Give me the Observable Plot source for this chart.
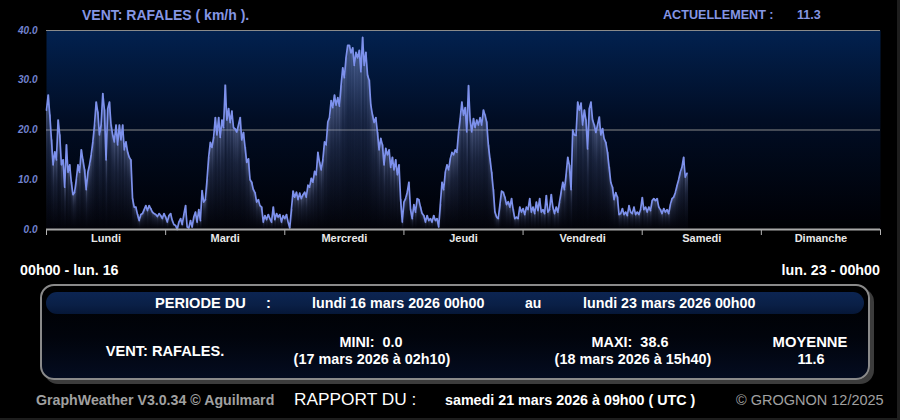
<!DOCTYPE html>
<html><head><meta charset="utf-8">
<script src="https://cdn.jsdelivr.net/npm/d3@7"></script>
<script src="https://cdn.jsdelivr.net/npm/@observablehq/plot@0.6"></script>
<style>
html,body{margin:0;padding:0;background:#000;}
#root{position:relative;width:900px;height:420px;background:#000;overflow:hidden;font-family:"Liberation Sans",Arial,Helvetica,sans-serif;}
#root svg{position:absolute;left:0;top:0;}
.t{position:absolute;white-space:pre;line-height:1;}
.panel{position:absolute;left:40px;top:284px;width:826px;height:92px;border:2px solid #8a8a8a;border-radius:14px;box-shadow:4px 4px 0 #3c3c3c;background:linear-gradient(180deg,#000 0%,#01040c 55%,#040c20 100%);}
.bar{position:absolute;left:46px;top:292px;width:818px;height:22px;border-radius:11px;background:linear-gradient(180deg,#0c2552 0%,#0a1f46 60%,#061737 100%);}
.edge{position:absolute;right:0;top:0;width:3px;height:420px;background:#1e1e1e;}
.edgeb{position:absolute;left:0;bottom:0;width:900px;height:2px;background:#1e1e1e;}
</style></head><body><div id="root"></div>
<script>
// Day names shown under the axis
const days = ["Lundi","Mardi","Mercredi","Jeudi","Vendredi","Samedi","Dimanche"];
// Sample spacing (hours) from lundi 16 mars 2026 00h00
const stepHours = 1/3;
// Wind gusts (km/h), 20-minute samples, Mon 00h00 -> Sat 09h00
const gusts = [
 24,27,23,18,13,15.6,14,22,19,13,14,8.5,17,11.5,13,9.5,7,7.5,10,13,11.5,16,14,12,8,11.5,13,15,17.6,21,25.6,23.6,19,21,27.3,24,14,24.3,25.6,21,19,17.6,21,17,21,18,21,16,17.6,15.6,14.5,14,6.2,4.5,
 4.5,3,1.8,3,3.2,4,4.8,3.8,4.8,4.2,3.5,3.2,3,2.6,3.2,2.8,2.2,3.2,2.5,1.5,2.8,3.2,1.8,1,0.8,0,1.5,2.2,1,3,4.8,0.5,0.3,1.8,0.5,2.5,3.5,1.5,4,1.8,
 7.8,5.5,6,10,14.5,17.5,16.5,18.5,22.5,19,22.5,18.5,22,20.5,29,22,24.3,21.5,23.8,20.5,20.2,19.6,21,22.5,18,19.5,16.5,13.5,14.2,10,9.5,8,7.4,5.5,6,4.8,4.5,1.5,2.8,2,3,2.2,1.5,4.5,2,3.2,2.5,3,1.5,2.8,2.2,3,1.5,0.3,4,7.7,
 6.5,7.5,6,7.3,6.2,7,7.5,6.5,8.9,8.5,10.3,9.5,11.7,11,15.5,13.5,12,14,17.6,17,21.6,22.5,25.9,24.5,27,25,26.5,24.8,28.9,32.5,30.5,34.5,37,37,35.5,36.5,33,35.6,34.5,36,31.7,38.6,33,35.6,31,30,25,23,21.5,22.5,19.5,16,18.3,17,13,16.3,15,16,12.5,14.5,12,14,11,13,6,1.5,
 5.5,6.2,7.5,9.5,4,2.2,5,3.5,6.2,6,4.5,3.2,2.8,1.5,2.8,1.8,2.2,1.5,2.8,1.8,2.2,0.5,5,9.5,8,11.5,13,12,14.2,15.5,15,16,15.5,19.5,22.3,25.6,23,24.5,19.6,28.9,22,19.6,22.3,20.5,22,21,22.5,21,24,23,21.6,17,14.2,11.5,8,3.5,2.5,2.2,5,7.7,7.5,6.5,5,5.6,4.5,6.2,4,2.2,2.5,2.2,4.5,3.5,4.2,3,4.5,4,6.2,3.5,4.5,3.2,5.5,3.8,6.2,3.5,
 4,3.2,6.8,3.5,4,7,4.5,3.2,4.5,3.5,5.5,7.5,9.5,8,11,14.5,12.9,8,20,19,18.9,25.6,24,25.4,21,24,22,16.2,24.3,25.6,22,21,19.5,21,22.6,19,20.3,18.2,17.5,15.5,12.5,9.5,8.5,6,7.4,6.5,3,3.2,4.2,3,3.5,2.8,4.8,3.5,3.2,4.5,3,3.5,3,4,6.4,4,4.5,3.5,4.5,3.8,5.8,6.2,5.8,6.2,4.5,4,3.2,4.2,3.5,4,3.2,5,6.2,6.5,7.4,8.8,10,11.5,12.5,14.5,10.5,11.3
];
// Y tick labels and grid lines
const yTicks = [0,10,20,30,40];
const gridValues = [20,40];
// Day boundaries (hours)
const dayEdges = [0,24,48,72,96,120,144,168];

const data = gusts.map((v,i) => ({t: i*stepHours, v}));

const root = document.getElementById("root");

const chart = Plot.plot({
  width: 900, height: 258,
  marginTop: 30, marginRight: 20, marginBottom: 29, marginLeft: 46,
  style: {background: "transparent", color: "#b4b4b4", overflow: "visible"},
  x: {domain: [0,168], ticks: dayEdges, tickSize: 6, tickFormat: () => "", label: null},
  y: {domain: [0,40], axis: null},
  marks: [
    Plot.frame({fill: "url(#bgGrad)", stroke: "none"}),
    Plot.ruleY(gridValues, {stroke: "#8a8a8a", strokeWidth: 1}),
    Plot.rectY(data, {x1: "t", x2: d => d.t + stepHours, y: "v", fill: "url(#barGrad)"}),
    Plot.lineY(data, {x: "t", y: "v", stroke: "#7d91ec", strokeWidth: 1.7}),
    Plot.ruleY([0], {stroke: "#a8a8a8", strokeWidth: 2}),
    Plot.text(yTicks, {y: d => d, text: d => d.toFixed(1), frameAnchor: "left", dx: -9, textAnchor: "end",
      fill: "#7283d0", fontStyle: "italic", fontWeight: "bold", fontSize: 10, fontFamily: "Liberation Sans, Arial, sans-serif"}),
    Plot.text(days, {x: (d,i) => dayEdges[i] + 12, frameAnchor: "bottom", dy: 12, fill: "#e8e8e8",
      fontWeight: "bold", fontSize: 11, fontFamily: "Liberation Sans, Arial, sans-serif"})
  ]
});

const svg = d3.select(chart);
const defs = svg.insert("defs", ":first-child");
const bg = defs.append("linearGradient").attr("id","bgGrad").attr("x1",0).attr("y1",0).attr("x2",0).attr("y2",1);
bg.append("stop").attr("offset","0%").attr("stop-color","#02214f");
bg.append("stop").attr("offset","45%").attr("stop-color","#010d24");
bg.append("stop").attr("offset","100%").attr("stop-color","#000004");
const bgr = defs.append("linearGradient").attr("id","barGrad").attr("x1",0).attr("y1",0).attr("x2",0).attr("y2",1);
bgr.append("stop").attr("offset","0%").attr("stop-color","rgb(140,155,210)").attr("stop-opacity",0.5);
bgr.append("stop").attr("offset","35%").attr("stop-color","rgb(90,105,155)").attr("stop-opacity",0.28);
bgr.append("stop").attr("offset","100%").attr("stop-color","rgb(40,50,85)").attr("stop-opacity",0.06);

root.appendChild(chart);

function addDiv(cls){ const d = document.createElement("div"); d.className = cls; root.appendChild(d); return d; }
addDiv("panel"); addDiv("bar"); addDiv("edge"); addDiv("edgeb");

function label(txt, x, y, anchor, style){
  const el = document.createElement("div");
  el.className = "t";
  el.textContent = txt;
  const tx = anchor === "middle" ? "-50%" : anchor === "end" ? "-100%" : "0";
  el.style.left = x + "px"; el.style.top = y + "px";
  el.style.transform = `translate(${tx},-50%)`;
  Object.assign(el.style, style || {});
  root.appendChild(el);
}
const blue = (size) => ({color: "#8596e4", fontWeight: "bold", fontSize: size});
const white = (size) => ({color: "#ffffff", fontWeight: "bold", fontSize: size});

label("VENT: RAFALES ( km/h ).", 82, 15, "start", blue("14px"));
label("ACTUELLEMENT :", 663, 15, "start", blue("12.6px"));
label(String(gusts[gusts.length-1]), 797, 15, "start", blue("12.6px"));

label("00h00 - lun. 16", 20, 270, "start", white("14.3px"));
label("lun. 23 - 00h00", 880, 270, "end", white("14.3px"));

label("PERIODE DU", 155, 303, "start", white("14.6px"));
label(":", 266, 303, "start", white("14.6px"));
label("lundi 16 mars 2026 00h00", 312, 303, "start", white("14.3px"));
label("au", 525, 303, "start", white("14px"));
label("lundi 23 mars 2026 00h00", 583, 303, "start", white("14.3px"));

label("VENT: RAFALES.", 165, 351, "middle", white("14.6px"));
label("MINI:  " + d3.min(gusts).toFixed(1), 371, 342, "middle", white("14.4px"));
label("(17 mars 2026 à 02h10)", 372, 359, "middle", white("14.4px"));
label("MAXI:  " + d3.max(gusts).toFixed(1), 630, 342, "middle", white("14.4px"));
label("(18 mars 2026 à 15h40)", 633, 359, "middle", white("14.4px"));
label("MOYENNE", 810, 342, "middle", white("14.8px"));
label("11.6", 811, 359, "middle", white("14.4px"));

label("GraphWeather V3.0.34 © Aguilmard", 36, 400, "start", {color: "#a0a0a0", fontWeight: "bold", fontSize: "14.2px"});
label("RAPPORT DU :", 294, 400, "start", {color: "#ffffff", fontSize: "17.3px"});
label("samedi 21 mars 2026 à 09h00 ( UTC )", 445, 400, "start", white("14.3px"));
label("© GROGNON 12/2025", 736, 400, "start", {color: "#a0a0a0", fontSize: "14.5px"});
</script>
</body></html>
